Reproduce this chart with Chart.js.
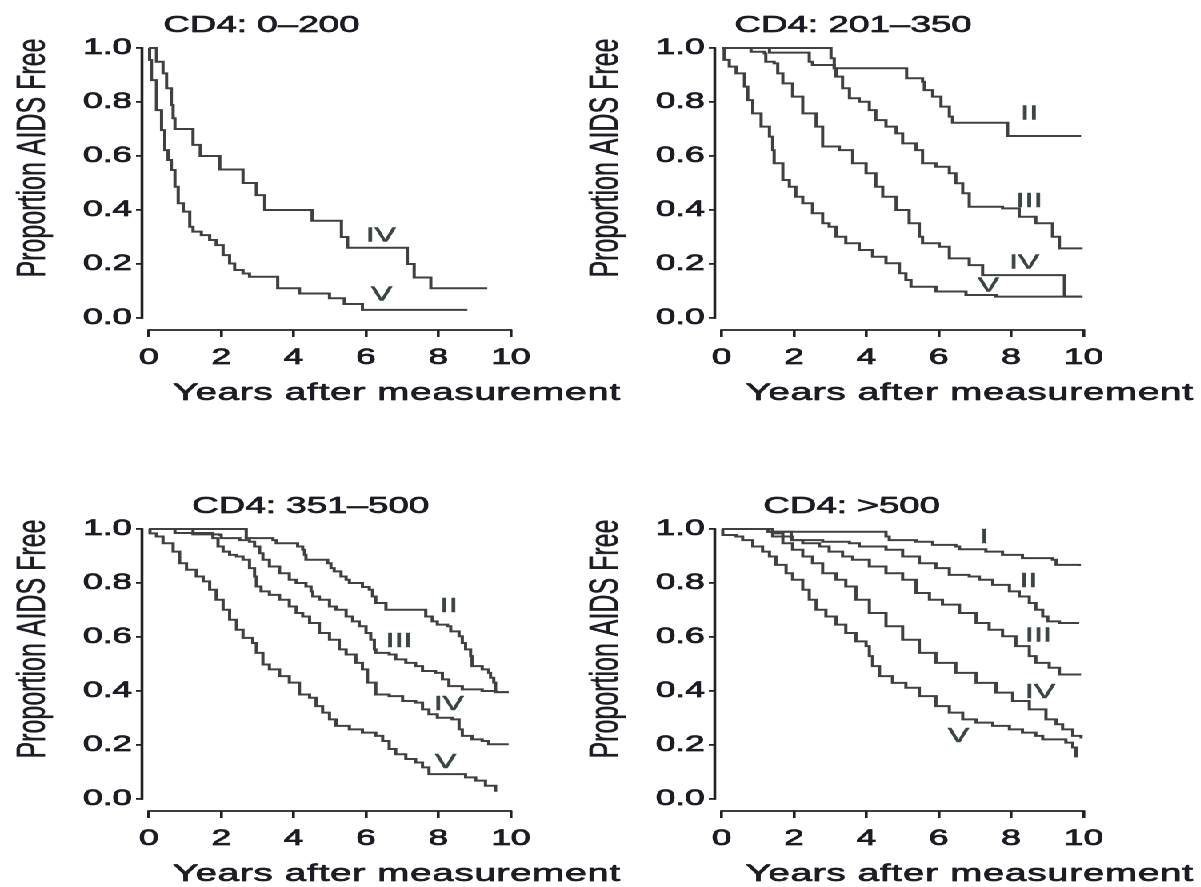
<!DOCTYPE html>
<html>
<head>
<meta charset="utf-8">
<script src="https://cdn.jsdelivr.net/npm/chart.js@4.4.0/dist/chart.umd.min.js"></script>
<style>
html,body{margin:0;padding:0;background:#fff;overflow:hidden;}
#page{position:relative;width:1201px;height:887px;overflow:hidden;background:#fff;}
#stage{position:absolute;left:0;top:0;width:750.625px;height:887px;transform:scaleX(1.6);transform-origin:0 0;}
.panel{position:absolute;width:395px;height:406px;}
</style>
</head>
<body>
<div id="page"><div id="stage">
  <div class="panel" style="left:0;top:0"><canvas id="c1" width="395" height="406"></canvas></div>
  <div class="panel" style="left:357.5px;top:0"><canvas id="c2" width="395" height="406"></canvas></div>
  <div class="panel" style="left:0;top:481px"><canvas id="c3" width="395" height="406"></canvas></div>
  <div class="panel" style="left:357.5px;top:481px"><canvas id="c4" width="395" height="406"></canvas></div>
</div></div>
<script>
// ---------- tick labels and texts ----------
const xTicks = [0, 2, 4, 6, 8, 10];
const xTickLabels = ['0', '2', '4', '6', '8', '10'];
const yTicks = [0, 0.2, 0.4, 0.6, 0.8, 1.0];
const yTickLabels = ['0.0', '0.2', '0.4', '0.6', '0.8', '1.0'];
const panelTitles = ['CD4: 0\u2013200', 'CD4: 201\u2013350', 'CD4: 351\u2013500', 'CD4: >500'];
const xAxisTitle = 'Years after measurement';
const yAxisTitle = 'Proportion AIDS Free';

// ---------- series: [years, proportion AIDS free] ----------
// CD4 0-200
const p1_IV = [[0,1],[0.21,0.949],[0.39,0.906],[0.49,0.851],[0.62,0.789],[0.67,0.740],[0.72,0.70],[1.22,0.641],[1.42,0.60],[1.96,0.55],[2.60,0.50],[2.97,0.455],[3.20,0.40],[4.51,0.36],[5.32,0.30],[5.49,0.26],[7.14,0.20],[7.33,0.15],[7.79,0.11],[9.35,0.11]];
const p1_V = [[0,1],[0.02,0.956],[0.07,0.881],[0.21,0.770],[0.35,0.696],[0.44,0.622],[0.53,0.585],[0.62,0.548],[0.72,0.486],[0.81,0.425],[0.95,0.394],[1.13,0.338],[1.22,0.320],[1.45,0.307],[1.68,0.289],[1.86,0.270],[2.05,0.233],[2.23,0.202],[2.37,0.178],[2.60,0.165],[2.78,0.153],[3.56,0.110],[4.16,0.091],[4.99,0.073],[5.40,0.052],[5.90,0.030],[8.80,0.030]];
// CD4 201-350
const p2_II = [[0,1],[3.02,0.962],[3.11,0.925],[5.11,0.888],[5.55,0.875],[5.60,0.844],[5.83,0.82],[6.06,0.783],[6.29,0.746],[6.38,0.723],[7.90,0.674],[9.93,0.674]];
const p2_III = [[0,1],[1.32,0.983],[2.42,0.949],[2.51,0.937],[3.11,0.925],[3.16,0.894],[3.34,0.851],[3.53,0.814],[3.80,0.801],[4.08,0.770],[4.26,0.733],[4.54,0.709],[4.82,0.684],[5.00,0.647],[5.37,0.622],[5.55,0.573],[5.92,0.560],[6.29,0.536],[6.47,0.499],[6.66,0.462],[6.84,0.412],[7.76,0.406],[8.22,0.375],[8.68,0.351],[9.14,0.301],[9.33,0.258],[9.93,0.254]];
const p2_IV = [[0,1],[0.81,0.986],[1.18,0.98],[1.22,0.949],[1.45,0.943],[1.55,0.906],[1.69,0.869],[1.96,0.820],[2.24,0.758],[2.61,0.709],[2.79,0.635],[3.25,0.622],[3.62,0.573],[3.99,0.536],[4.26,0.486],[4.45,0.449],[4.82,0.40],[5.18,0.351],[5.46,0.301],[5.55,0.277],[6.01,0.264],[6.29,0.221],[6.84,0.196],[7.21,0.159],[9.47,0.079],[9.97,0.079]];
const p2_V = [[0,1],[0.07,0.956],[0.21,0.931],[0.40,0.906],[0.63,0.857],[0.72,0.807],[0.86,0.758],[1.09,0.709],[1.32,0.672],[1.41,0.622],[1.45,0.573],[1.69,0.511],[1.87,0.486],[2.05,0.449],[2.24,0.425],[2.51,0.388],[2.79,0.351],[2.97,0.338],[3.16,0.301],[3.43,0.277],[3.80,0.252],[4.17,0.227],[4.54,0.203],[4.91,0.166],[5.09,0.141],[5.23,0.116],[5.92,0.098],[6.75,0.085],[7.58,0.079],[9.97,0.079]];
// CD4 351-500
const p3_II = [[0,1],[2.69,0.966],[3.43,0.959],[3.52,0.947],[4.11,0.935],[4.25,0.923],[4.30,0.904],[4.34,0.886],[4.94,0.873],[5.03,0.855],[5.12,0.843],[5.31,0.824],[5.45,0.812],[5.54,0.80],[5.90,0.785],[6.09,0.775],[6.18,0.75],[6.27,0.726],[6.55,0.701],[7.65,0.676],[7.83,0.658],[7.97,0.646],[8.25,0.640],[8.34,0.621],[8.57,0.603],[8.66,0.578],[8.75,0.554],[8.89,0.529],[8.93,0.492],[9.21,0.480],[9.39,0.467],[9.44,0.449],[9.53,0.431],[9.58,0.396],[9.94,0.396]];
const p3_III = [[0,1],[1.22,0.98],[1.96,0.978],[2.00,0.966],[2.51,0.959],[2.78,0.953],[2.92,0.935],[3.06,0.910],[3.15,0.886],[3.33,0.861],[3.61,0.836],[3.88,0.812],[4.07,0.80],[4.34,0.787],[4.48,0.769],[4.53,0.75],[4.71,0.738],[4.99,0.713],[5.17,0.701],[5.45,0.676],[5.63,0.658],[5.81,0.640],[6.00,0.615],[6.13,0.590],[6.23,0.554],[6.27,0.541],[6.64,0.535],[6.82,0.517],[7.10,0.504],[7.37,0.492],[7.56,0.474],[7.92,0.467],[8.11,0.443],[8.29,0.418],[8.66,0.406],[9.21,0.40],[9.58,0.396],[9.94,0.396]];
const p3_IV = [[0,1],[0.72,0.985],[1.77,0.966],[1.91,0.935],[2.05,0.916],[2.23,0.904],[2.42,0.898],[2.60,0.886],[2.78,0.855],[2.92,0.824],[2.97,0.787],[3.10,0.769],[3.33,0.756],[3.61,0.738],[3.88,0.713],[4.07,0.689],[4.25,0.676],[4.44,0.652],[4.71,0.615],[4.99,0.590],[5.26,0.554],[5.45,0.535],[5.72,0.504],[5.90,0.480],[6.04,0.431],[6.27,0.387],[6.64,0.381],[7.01,0.363],[7.37,0.357],[7.56,0.332],[7.74,0.314],[7.97,0.301],[8.38,0.295],[8.57,0.258],[8.66,0.234],[8.93,0.221],[9.21,0.215],[9.39,0.203],[9.94,0.203]];
const p3_V = [[0,1],[0.03,0.984],[0.21,0.972],[0.39,0.947],[0.67,0.916],[0.85,0.873],[1.04,0.849],[1.31,0.824],[1.50,0.806],[1.68,0.775],[1.86,0.738],[2.05,0.701],[2.23,0.664],[2.42,0.627],[2.60,0.597],[2.87,0.578],[2.97,0.541],[3.15,0.498],[3.33,0.480],[3.61,0.455],[3.88,0.431],[4.16,0.387],[4.44,0.375],[4.62,0.344],[4.80,0.320],[4.99,0.295],[5.17,0.271],[5.54,0.258],[5.90,0.246],[6.27,0.234],[6.46,0.215],[6.64,0.185],[6.82,0.166],[7.10,0.148],[7.37,0.135],[7.56,0.117],[7.74,0.092],[8.75,0.080],[9.03,0.068],[9.30,0.049],[9.58,0.027]];
// CD4 >500
const p4_I = [[0,1],[1.30,0.99],[4.54,0.972],[4.63,0.959],[5.37,0.953],[5.83,0.941],[6.47,0.935],[6.57,0.925],[7.30,0.916],[7.76,0.904],[8.31,0.892],[9.14,0.886],[9.24,0.867],[9.88,0.863]];
const p4_II = [[0,1],[1.30,0.99],[1.92,0.959],[2.79,0.953],[3.53,0.947],[3.80,0.935],[4.54,0.923],[5.00,0.898],[5.46,0.873],[5.92,0.855],[6.29,0.830],[6.84,0.824],[7.12,0.812],[7.49,0.793],[7.95,0.769],[8.22,0.750],[8.50,0.726],[8.68,0.701],[8.87,0.676],[9.01,0.658],[9.33,0.652],[9.88,0.652]];
const p4_III = [[0,1],[1.41,0.984],[1.69,0.972],[1.96,0.959],[2.24,0.947],[2.70,0.935],[2.97,0.916],[3.34,0.898],[3.62,0.886],[4.08,0.861],[4.54,0.836],[5.00,0.812],[5.37,0.763],[5.74,0.738],[6.10,0.720],[6.57,0.689],[7.03,0.652],[7.39,0.627],[7.76,0.603],[8.13,0.566],[8.50,0.529],[8.68,0.504],[9.05,0.486],[9.33,0.461],[9.93,0.461]];
const p4_IV = [[0,1],[1.27,0.99],[1.41,0.972],[1.69,0.947],[1.96,0.923],[2.24,0.898],[2.51,0.873],[2.79,0.836],[3.16,0.812],[3.43,0.787],[3.71,0.738],[4.08,0.689],[4.54,0.640],[5.00,0.590],[5.46,0.541],[5.92,0.504],[6.47,0.467],[7.03,0.430],[7.58,0.394],[8.04,0.363],[8.50,0.332],[8.96,0.295],[9.24,0.277],[9.42,0.258],[9.70,0.234],[9.93,0.224]];
const p4_V = [[0,1],[0.03,0.978],[0.40,0.972],[0.58,0.959],[0.86,0.935],[1.13,0.916],[1.32,0.898],[1.50,0.867],[1.78,0.836],[1.96,0.812],[2.24,0.775],[2.42,0.738],[2.61,0.701],[2.88,0.676],[3.16,0.646],[3.43,0.615],[3.71,0.584],[3.99,0.566],[4.08,0.529],[4.17,0.492],[4.36,0.455],[4.72,0.430],[5.09,0.412],[5.46,0.381],[5.92,0.344],[6.29,0.320],[6.66,0.295],[7.03,0.283],[7.49,0.271],[7.95,0.258],[8.31,0.246],[8.68,0.234],[8.87,0.221],[9.51,0.209],[9.70,0.191],[9.79,0.154]];

// ---------- curve label placement (data coordinates) ----------
const p1_labels = [{text:'IV', x:6.41, y:0.304}, {text:'V', x:6.43, y:0.085}];
const p2_labels = [{text:'II', x:8.5, y:0.755}, {text:'III', x:8.5, y:0.431}, {text:'IV', x:8.36, y:0.203}, {text:'V', x:7.37, y:0.119}];
const p3_labels = [{text:'II', x:8.29, y:0.713}, {text:'III', x:6.91, y:0.584}, {text:'IV', x:8.29, y:0.35}, {text:'V', x:8.2, y:0.135}];
const p4_labels = [{text:'I', x:7.26, y:0.969}, {text:'II', x:8.48, y:0.806}, {text:'III', x:8.75, y:0.603}, {text:'IV', x:8.8, y:0.394}, {text:'V', x:6.54, y:0.231}];

const FONT = '"Liberation Sans", Arial, Helvetica, sans-serif';
const INK = '#1c1c24';
const LINE = '#404040';

const panels = [
  {id:'c1', title:panelTitles[0], titleX:102, series:[p1_IV, p1_V], labels:p1_labels},
  {id:'c2', title:panelTitles[1], titleX:101, series:[p2_II, p2_III, p2_IV, p2_V], labels:p2_labels},
  {id:'c3', title:panelTitles[2], titleX:120, series:[p3_II, p3_III, p3_IV, p3_V], labels:p3_labels},
  {id:'c4', title:panelTitles[3], titleX:119, series:[p4_I, p4_II, p4_III, p4_IV, p4_V], labels:p4_labels}
];

const axisLines = {
  id: 'axisLines',
  afterDraw(chart) {
    const {ctx, chartArea: a, scales: {x, y}} = chart;
    ctx.save();
    ctx.strokeStyle = '#222';
    ctx.lineWidth = 1.8;
    ctx.beginPath();
    ctx.moveTo(a.left, y.getPixelForValue(0) + 0.9);
    ctx.lineTo(a.left, y.getPixelForValue(1) - 0.9);
    ctx.moveTo(x.getPixelForValue(0) - 0.9, a.bottom);
    ctx.lineTo(x.getPixelForValue(10) + 0.9, a.bottom);
    ctx.stroke();
    ctx.restore();
  }
};

function boldText(ctx, text, x, y, w) {
  ctx.lineWidth = w;
  ctx.strokeStyle = ctx.fillStyle;
  ctx.lineJoin = 'round';
  ctx.strokeText(text, x, y);
  ctx.fillText(text, x, y);
}

const panelText = {
  id: 'panelText',
  afterDraw(chart, args, opts) {
    const {ctx, scales: {x, y}} = chart;
    ctx.save();
    ctx.fillStyle = INK;
    ctx.textAlign = 'left';
    ctx.textBaseline = 'alphabetic';
    ctx.font = '23px ' + FONT;
    boldText(ctx, opts.title, opts.titleX, 32, 0.7);
    ctx.font = '24px ' + FONT;
    ctx.letterSpacing = '0.5px';
    boldText(ctx, xAxisTitle, 108, 400, 0.7);
    ctx.letterSpacing = '0px';
    ctx.save();
    ctx.translate(21, 158);
    ctx.rotate(-Math.PI / 2);
    ctx.textAlign = 'center';
    ctx.textBaseline = 'middle';
    ctx.font = '25px ' + FONT;
    boldText(ctx, yAxisTitle, 0, 0, 0.4);
    ctx.restore();
    ctx.font = '20px ' + FONT;
    ctx.textAlign = 'center';
    ctx.textBaseline = 'middle';
    ctx.fillStyle = '#3a4646';
    opts.labels.forEach(l => boldText(ctx, l.text, x.getPixelForValue(l.x), y.getPixelForValue(l.y), 0.5));
    ctx.restore();
  }
};

panels.forEach(p => {
  new Chart(document.getElementById(p.id), {
    type: 'line',
    data: {
      datasets: p.series.map(s => ({
        data: s.map(([t, v]) => ({x: t, y: v})),
        borderColor: LINE,
        borderWidth: 2,
        stepped: true,
        fill: false,
        pointRadius: 0,
        clip: false
      }))
    },
    options: {
      responsive: false,
      animation: false,
      devicePixelRatio: 2,
      layout: {padding: {top: 48, right: 75.75, bottom: 0, left: 0}},
      plugins: {
        legend: {display: false},
        tooltip: {enabled: false},
        title: {display: false},
        panelText: {title: p.title, titleX: p.titleX, labels: p.labels}
      },
      scales: {
        x: {
          type: 'linear', min: -0.19, max: 10,
          afterBuildTicks(s) { s.ticks = xTicks.map(v => ({value: v})); },
          afterFit(s) { s.height = 76; },
          ticks: {autoSkip: false, maxRotation: 0, padding: 7.8, color: INK,
                  textStrokeColor: INK, textStrokeWidth: 0.8,
                  font: {family: FONT, size: 22},
                  callback: (v, i) => xTickLabels[i]},
          grid: {display: true, drawOnChartArea: false, drawTicks: true, tickLength: 7, color: '#222', lineWidth: 1.8},
          border: {display: false}
        },
        y: {
          type: 'linear', min: -0.0444, max: 1,
          afterBuildTicks(s) { s.ticks = yTicks.map(v => ({value: v})); },
          afterFit(s) { s.width = 88.75; },
          ticks: {autoSkip: false, padding: 2.5, color: INK,
                  textStrokeColor: INK, textStrokeWidth: 0.8,
                  font: {family: FONT, size: 22},
                  callback: (v, i) => yTickLabels[i]},
          grid: {display: true, drawOnChartArea: false, drawTicks: true, tickLength: 3.75, color: '#222', lineWidth: 1.8},
          border: {display: false}
        }
      }
    },
    plugins: [axisLines, panelText]
  });
});
</script>
</body>
</html>
